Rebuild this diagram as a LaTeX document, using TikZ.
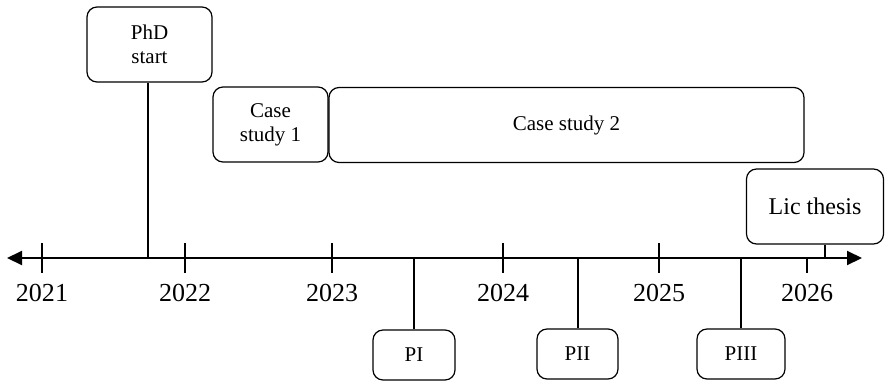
\documentclass[tikz,border=0pt]{standalone}
\usepackage{fontspec}
\setmainfont{Liberation Serif}
\usetikzlibrary{arrows.meta}
\tikzset{
  box/.style={draw, line width=1.2pt, rounded corners=10pt, inner sep=0pt, align=center,
    font=\fontsize{21}{24}\selectfont},
  axisline/.style={line width=2pt},
  tickline/.style={line width=2pt},
  stem/.style={line width=2pt},
  yearlabel/.style={font=\fontsize{26}{28}\selectfont, inner sep=0pt},
  tip/.style={Triangle[length=15pt,width=14pt]}
}
\begin{document}
\begin{tikzpicture}[x=1pt,y=-1pt]
\useasboundingbox (0,0) rectangle (885,381);
% axis
\coordinate (axL) at (7,258);
\coordinate (axR) at (862,258);
\draw[axisline, {Triangle[length=15pt,width=14pt]}-{Triangle[length=15pt,width=14pt]}] (axL) -- (axR);
% ticks and years
\foreach \x/\yr/\n in {42/2021/a,185/2022/b,332/2023/c,503/2024/d,659/2025/e}{
  \draw[tickline] (\x,243) -- (\x,273);
  \node[yearlabel] (y\n) at (\x,292.5) {\yr};
}
\draw[tickline] (807,258) -- (807,273);
\node[yearlabel] (yf) at (807,292.5) {2026};
% boxes
\node[box, minimum width=125pt, minimum height=75pt] (phd) at (149.5,44.5) {PhD\\start};
\node[box, minimum width=115pt, minimum height=75pt] (cs1) at (270.5,124.5) {Case\\study 1};
\node[box, minimum width=475pt, minimum height=75pt] (cs2) at (566.5,125) {Case study 2};
\node[box, minimum width=137pt, minimum height=75pt, font=\fontsize{24}{27}\selectfont] (lic) at (815,206.5) {Lic thesis};
\node[box, minimum width=82pt, minimum height=50pt] (p1) at (414,355) {PI};
\node[box, minimum width=81pt, minimum height=50pt] (p2) at (577.5,354) {PII};
\node[box, minimum width=88pt, minimum height=50pt] (p3) at (741,354) {PIII};
% stems
\coordinate (phdfoot) at (148,258);
\coordinate (licfoot) at (825,258);
\coordinate (p1foot) at (414,258);
\coordinate (p2foot) at (577.5,258);
\coordinate (p3foot) at (741,258);
\draw[stem] (phdfoot |- phd.south) -- (phdfoot);
\draw[stem] (licfoot |- lic.south) -- (licfoot);
\draw[stem] (p1.north) -- (p1foot);
\draw[stem] (p2.north) -- (p2foot);
\draw[stem] (p3.north) -- (p3foot);
\end{tikzpicture}
\end{document}
